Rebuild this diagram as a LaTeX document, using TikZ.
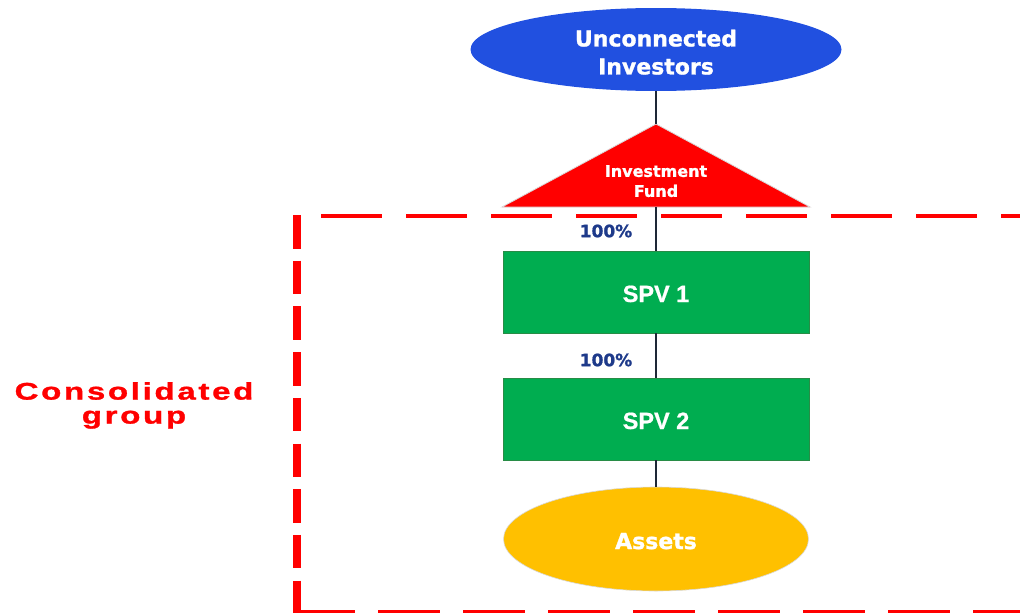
\documentclass[tikz,border=0pt]{standalone}
\usepackage{fontspec}
\setmainfont{DejaVu Sans}[BoldFeatures={FakeBold=1.2}]
\newfontfamily\consfont{Liberation Sans}[FakeStretch=1.38, LetterSpace=11, BoldFeatures={FakeBold=1.2}]
\newfontfamily\arialfont{Liberation Sans}[BoldFeatures={FakeBold=0.8}]
\usetikzlibrary{shapes.geometric}
\definecolor{invblue}{RGB}{33,80,224}
\definecolor{fundred}{RGB}{255,0,0}
\definecolor{spvgreen}{RGB}{0,173,80}
\definecolor{spvedge}{RGB}{40,140,70}
\definecolor{assetyellow}{RGB}{255,192,0}
\definecolor{pctblue}{RGB}{30,58,138}
\definecolor{linkcol}{RGB}{30,40,55}
\definecolor{groupred}{RGB}{255,0,0}
\begin{document}
\begin{tikzpicture}[x=1pt,y=-1pt,
  oval/.style={ellipse,inner sep=0pt},
  intext/.style={text=white,inner sep=0pt,align=center,anchor=north},
  spvbox/.style={rectangle,fill=spvgreen,draw=spvedge,line width=0.8pt,minimum width=306pt,minimum height=82pt,inner sep=0pt,text=white,text height=20pt,text depth=0pt,font=\arialfont\fontsize{23.5}{26}\selectfont\bfseries},
  pct/.style={text=pctblue,font=\fontsize{17}{20}\selectfont\bfseries,inner sep=0pt},
  link/.style={draw=linkcol,line width=2.6pt},
  frametop/.style={draw=groupred,line width=4pt,dash pattern=on 61pt off 24pt},
  frameleft/.style={draw=groupred,line width=7.5pt,dash pattern=on 33.5pt off 12.2pt},
  framebottom/.style={draw=groupred,line width=3.5pt,dash pattern=on 62pt off 23pt}
]
\useasboundingbox (0,0) rectangle (1020,613);

% consolidated group frame
\coordinate (ftl) at (321,216);
\coordinate (ftr) at (1030,216);
\coordinate (flt) at (297,215);
\coordinate (flb) at (297,620);
\coordinate (fbl) at (293,612);
\coordinate (fbr) at (1030,612);
\draw[frametop] (ftl) -- (ftr);
\draw[frameleft] (flt) -- (flb);
\draw[framebottom] (fbl) -- (fbr);

\node[text=groupred,inner sep=0pt,anchor=north,font=\consfont\fontsize{24}{24}\selectfont\bfseries,align=center] (grp) at (134,382) {Consolidated\\group};

% investors
\node[oval,fill=invblue,minimum width=371pt,minimum height=83pt] (inv) at (656,49.5) {};
\node[intext,font=\fontsize{22}{28}\selectfont\bfseries] (invtext) at (656,29.5) {Unconnected\\Investors};

% fund triangle
\coordinate (apex) at (656,124);
\coordinate (fundbase) at (656,207);
\filldraw[fill=fundred,draw=black!15,line width=0.8pt] (502,207) -- (apex) -- (810,207) -- cycle;
\node[intext,font=\fontsize{16}{20}\selectfont\bfseries] (fund) at (656,165) {Investment\\Fund};

% SPVs
\node[spvbox] (spv1) at (656,292) {SPV 1};
\node[spvbox] (spv2) at (656,419) {SPV 2};

% assets
\node[oval,fill=assetyellow,draw=black!15,line width=0.6pt,minimum width=305pt,minimum height=104pt,text=white,text height=20pt,text depth=0pt,font=\fontsize{22}{26}\selectfont\bfseries] (assets) at (656,539) {Assets};

% connectors
\draw[link] (inv.south) -- (apex);
\draw[link] (fundbase) -- (spv1.north);
\draw[link] (spv1.south) -- (spv2.north);
\draw[link] (spv2.south) -- (assets.north);

% percentages
\node[pct] (p1) at (606,231) {100\%};
\node[pct] (p2) at (606,360) {100\%};
\end{tikzpicture}
\end{document}
